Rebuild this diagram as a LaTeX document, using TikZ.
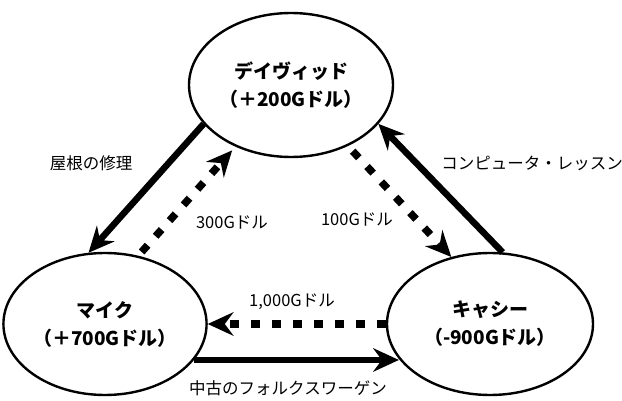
\documentclass[tikz,border=0pt]{standalone}
\usepackage{fontspec}
\newfontfamily\jp{Noto Sans CJK JP}
\usetikzlibrary{shapes.geometric,arrows.meta}
\tikzset{
  person/.style={ellipse, draw, line width=2.4pt, inner sep=0pt, align=center,
    font=\jp\bfseries\fontsize{19}{28}\selectfont},
  edgelbl/.style={font=\jp\fontsize{16.5}{18}\selectfont, inner sep=0pt},
  headtip/.style={-{Stealth[length=26pt,width=24pt,inset=9pt,line width=0pt]}},
  solidarr/.style={headtip, line width=6.5pt},
  dasharr/.style={headtip, line width=7.5pt, dash pattern=on 9pt off 12pt},
}
\begin{document}
\begin{tikzpicture}[x=1pt,y=-1pt]
\useasboundingbox (0,0) rectangle (622,401);
\node[person, minimum width=204pt, minimum height=144pt] (david) at (291,85) {デイヴィッド\\（＋200Gドル）};
\node[person, minimum width=200pt, minimum height=142pt] (mike) at (105,324) {マイク\\（＋700Gドル）};
\node[person, minimum width=206pt, minimum height=142pt] (cathy) at (490,324) {キャシー\\（-900Gドル）};

\draw[solidarr] (david.204) -- (mike.103);
\draw[dasharr, shorten <=5pt, shorten >=5pt] (mike.64) -- (david.228);
\draw[dasharr, shorten <=7pt] (david.313) -- (cathy.120);
\draw[solidarr] (cathy.80) -- (david.336);
\draw[dasharr] (cathy.west) -- (mike.east);
\draw[solidarr] (mike.338) -- (cathy.201 |- mike.338);

\node[edgelbl] (l1) at (91,163) {屋根の修理};
\node[edgelbl] (l2) at (232,223) {300Gドル};
\node[edgelbl] (l3) at (532,163) {コンピュータ・レッスン};
\node[edgelbl] (l4) at (357,220) {100Gドル};
\node[edgelbl] (l5) at (292,302) {1,000Gドル};
\node[edgelbl] (l6) at (288,388) {中古のフォルクスワーゲン};
\end{tikzpicture}
\end{document}
